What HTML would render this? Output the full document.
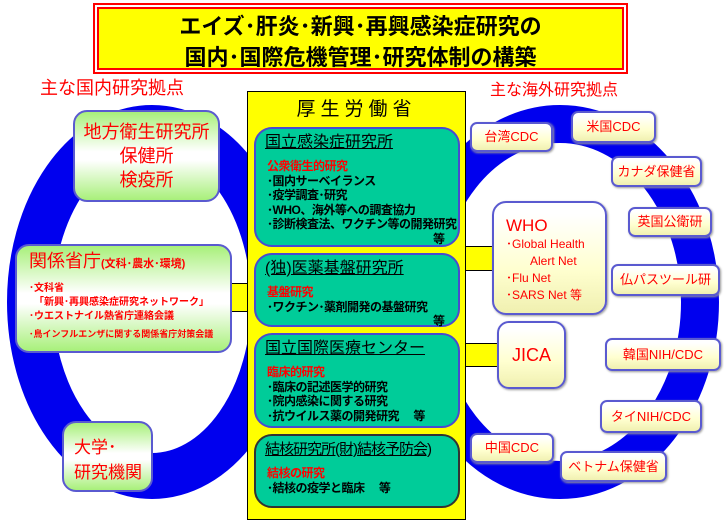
<!DOCTYPE html>
<html><head><meta charset="utf-8"><style>
body{margin:0;width:724px;height:521px;background:#fff;position:relative;overflow:hidden;font-family:"Liberation Sans","Noto Sans CJK JP",sans-serif;}
.a{position:absolute;box-sizing:border-box;}
.g{border:2px solid #5a5ad0;border-radius:14px;background:linear-gradient(#a8f07a,#fff 45%,#fff 55%,#a8f07a);color:#f00;}
.y{border:2px solid #5a5ad0;border-radius:7px;background:linear-gradient(#fff 10%,#ffffd0 60%,#f0f0b0);color:#f00;font-size:13px;text-align:center;box-shadow:1px 1px 2px #999;}
.t{border:2px solid #4a4ad0;border-radius:18px;background:#00cc99;color:#000;padding:4px 0 0 11px;font-size:12px;line-height:14.5px;font-weight:bold;letter-spacing:-0.5px;}
.t h{display:block;font-size:16px;font-weight:normal;text-decoration:underline;line-height:20px;margin-left:-2px;margin-bottom:6px;letter-spacing:0;}
.t r{color:#f00;display:block;}
.yl{background:#ff0;border:1px solid #000;}
</style></head><body>
<svg class="a" style="left:0;top:0" width="724" height="521">
<ellipse cx="152" cy="302" rx="122" ry="174" fill="none" stroke="#0000ee" stroke-width="46"/>
<ellipse cx="560" cy="302" rx="140" ry="178" fill="none" stroke="#0000ee" stroke-width="38"/>
</svg>
<div class="a" style="left:93px;top:3px;width:535px;height:71px;border:2px solid #f00;background:#fff;padding:2px">
<div style="width:100%;height:100%;background:#ff0;border:2px solid #f00;box-sizing:border-box;text-align:center;font-size:22px;font-weight:bold;line-height:31px;padding-top:2px">エイズ･肝炎･新興･再興感染症研究の<br>国内･国際危機管理･研究体制の構築</div></div>
<div class="a" style="left:40px;top:74px;color:#f00;font-size:18px">主な国内研究拠点</div>
<div class="a" style="left:490px;top:76px;color:#f00;font-size:16px">主な海外研究拠点</div>
<div class="a yl" style="left:230px;top:283px;width:20px;height:29px"></div>
<div class="a yl" style="left:462px;top:246px;width:32px;height:25px"></div>
<div class="a yl" style="left:462px;top:343px;width:37px;height:24px"></div>
<div class="a" style="left:247px;top:91px;width:219px;height:429px;background:#ff0;border:1px solid #000"></div>
<div class="a" style="left:247px;top:94px;width:219px;text-align:center;font-size:19px;letter-spacing:5px">厚生労働省</div>
<div class="a t" style="left:254px;top:127px;width:206px;height:120px"><h>国立感染症研究所</h><r>公衆衛生的研究</r>･国内サーベイランス<br>･疫学調査･研究<br>･WHO、海外等への調査協力<br>･診断検査法、ワクチン等の開発研究<br><span style="margin-left:166px">等</span></div>
<div class="a t" style="left:254px;top:253px;width:206px;height:74px"><h>(独)医薬基盤研究所</h><r>基盤研究</r>･ワクチン･薬剤開発の基盤研究<br><span style="margin-left:166px">等</span></div>
<div class="a t" style="left:254px;top:333px;width:206px;height:95px"><h>国立国際医療センター</h><r>臨床的研究</r>･臨床の記述医学的研究<br>･院内感染に関する研究<br>･抗ウイルス薬の開発研究　 等</div>
<div class="a t" style="left:254px;top:434px;width:206px;height:74px;border-color:#333"><h style="font-size:15px;letter-spacing:-1px">結核研究所(財)結核予防会)</h><r>結核の研究</r>･結核の疫学と臨床　 等</div>
<div class="a g" style="left:73px;top:110px;width:147px;height:92px;text-align:center;font-size:18px;line-height:24px;padding-top:8px">地方衛生研究所<br>保健所<br>検疫所</div>
<div class="a g" style="left:15px;top:244px;width:217px;height:109px;padding:8px 0 0 12px;font-size:10px;line-height:14px;font-weight:bold"><span style="font-size:18px;font-weight:normal">関係省庁</span><span style="font-size:11px">(文科･農水･環境)</span><div style="margin-top:10px">･文科省<br>　「新興･再興感染症研究ネットワーク」<br>･ウエストナイル熱省庁連絡会議<br><div style="margin-top:3px;font-size:9px">･鳥インフルエンザに関する関係省庁対策会議</div></div></div>
<div class="a g" style="left:62px;top:421px;width:91px;height:71px;font-size:17px;line-height:25px;padding:12px 0 0 10px">大学･<br>研究機関</div>
<div class="a y" style="left:470px;top:122px;width:83px;height:30px;line-height:26px">台湾CDC</div>
<div class="a y" style="left:571px;top:111px;width:85px;height:32px;line-height:28px">米国CDC</div>
<div class="a y" style="left:611px;top:156px;width:91px;height:31px;line-height:27px">カナダ保健省</div>
<div class="a y" style="left:628px;top:207px;width:84px;height:30px;line-height:26px">英国公衛研</div>
<div class="a y" style="left:611px;top:264px;width:109px;height:32px;line-height:28px">仏パスツール研</div>
<div class="a y" style="left:492px;top:201px;width:115px;height:114px;border-radius:14px;text-align:left;padding:14px 0 0 12px;font-size:12px;line-height:17px"><span style="font-size:17px">WHO</span><br>･Global Health<br>　　Alert Net<br>･Flu Net<br>･SARS Net 等</div>
<div class="a y" style="left:497px;top:321px;width:69px;height:68px;border-radius:12px;font-size:18px;line-height:64px">JICA</div>
<div class="a y" style="left:605px;top:338px;width:116px;height:33px;line-height:29px">韓国NIH/CDC</div>
<div class="a y" style="left:600px;top:400px;width:102px;height:33px;line-height:29px">タイNIH/CDC</div>
<div class="a y" style="left:470px;top:433px;width:84px;height:30px;line-height:26px">中国CDC</div>
<div class="a y" style="left:560px;top:451px;width:107px;height:31px;line-height:27px">ベトナム保健省</div>
</body></html>
